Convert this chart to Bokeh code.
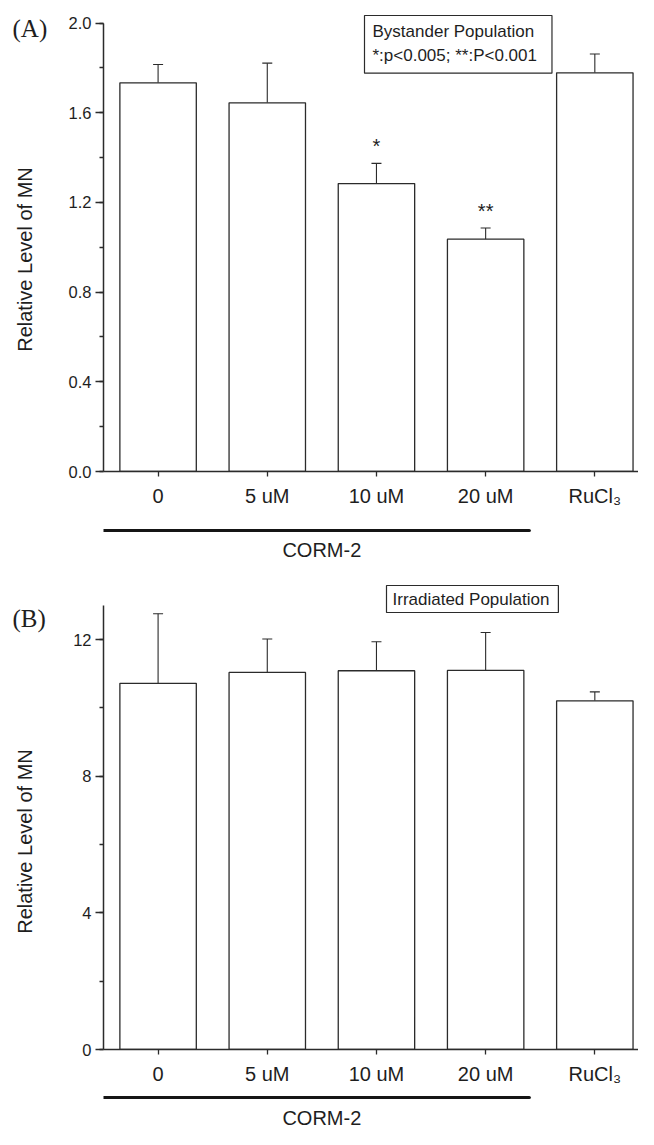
import math
from bokeh.plotting import figure
from bokeh.models import (Range1d, FixedTicker, SingleIntervalTicker, NumeralTickFormatter,
                          ColumnDataSource, Whisker, TeeHead, Label)
from bokeh.layouts import column, row
from bokeh.embed import file_html
from bokeh.resources import INLINE
from bokeh.core.properties import value

# ---------------- data ----------------
categories = ["0", "5 uM", "10 uM", "20 uM", "RuCl\u2083"]
corm_count = 4  # first four categories are CORM-2 doses

a_mean = [1.733, 1.644, 1.284, 1.036, 1.778]
a_err = [0.082, 0.177, 0.090, 0.050, 0.084]
a_stars = ["", "", "*", "**", ""]

b_mean = [10.72, 11.04, 11.09, 11.10, 10.21]
b_err = [2.04, 0.98, 0.85, 1.11, 0.26]
b_stars = ["", "", "", "", ""]

a_axis_max = 2.0
b_axis_max = 13

# ---------------- style / layout ----------------
TOTAL_W = 638
TOTAL_H = 1129
LEFT_W = 58            # strip holding panel letters and y titles
W = TOTAL_W - LEFT_W
LEFT = 45              # main figure border left of the frame
SANS = "Liberation Sans"
SERIF = "Liberation Serif"
INK = "#2b2b2b"
TXT = "#1e1e1e"

idx = list(range(len(categories)))
xr = Range1d(-0.5, 4.4)
FRAME_W = W - LEFT
px_per_x = FRAME_W / (xr.end - xr.start)


def x_at(px):
    """data x for a canvas pixel column (canvas of the whole page)."""
    return xr.start + (px - LEFT_W - LEFT) / px_per_x


def main_panel(means, errs, stars, axis_max, interval, fmt, height, top, frame_h,
               view_max, box_text, box_px, box_py, frame_top_px, box_pad, box_lh):
    p = figure(width=W, height=height, x_range=xr, y_range=Range1d(0, view_max),
               output_backend="svg", toolbar_location=None,
               min_border_left=LEFT, min_border_right=0,
               min_border_top=top, min_border_bottom=height - top - frame_h)
    p.outline_line_color = None
    p.grid.visible = False
    p.background_fill_color = "white"
    p.border_fill_color = "white"

    upper = [m + e for m, e in zip(means, errs)]
    src = ColumnDataSource(dict(x=idx, top=means, upper=upper, stars=stars))

    p.vbar(x="x", top="top", bottom=0, width=0.7, source=src,
           fill_color="white", line_color=INK, line_width=1.3)

    wh = Whisker(source=src, base="x", lower="top", upper="upper",
                 line_color=INK, line_width=1.1,
                 upper_head=TeeHead(size=10, line_color=INK, line_width=1.1),
                 lower_head=None)
    p.add_layout(wh)

    p.text(x="x", y="upper", text="stars", source=src, text_align="center",
           text_baseline="alphabetic", y_offset=-17,
           text_font=value(SANS), text_font_size="20px", text_color=TXT)

    # axes
    p.xaxis.ticker = FixedTicker(ticks=idx)
    p.xaxis.major_label_overrides = {i: c for i, c in enumerate(categories)}
    p.xaxis.minor_tick_line_color = None
    p.xaxis.major_tick_out = 5
    p.xaxis.major_tick_in = 0
    p.xaxis.major_label_standoff = 8
    p.xaxis.major_label_text_font = SANS
    p.xaxis.major_label_text_font_size = "20px"
    p.xaxis.major_label_text_color = TXT

    p.yaxis.ticker = SingleIntervalTicker(interval=interval, num_minor_ticks=2)
    p.yaxis.formatter = NumeralTickFormatter(format=fmt)
    p.yaxis.bounds = (0, axis_max)
    p.yaxis.major_tick_out = 8
    p.yaxis.major_tick_in = 0
    p.yaxis.minor_tick_out = 4
    p.yaxis.minor_tick_in = 0
    p.yaxis.major_label_standoff = 4
    p.yaxis.major_label_text_font = SANS
    p.yaxis.major_label_text_font_size = "16.5px"
    p.yaxis.major_label_text_color = TXT

    for ax in (p.xaxis, p.yaxis):
        ax.axis_line_color = INK
        ax.axis_line_width = 1.5
        ax.major_tick_line_color = INK
        ax.major_tick_line_width = 1.3
    p.yaxis.minor_tick_line_color = INK
    p.yaxis.minor_tick_line_width = 1.3

    # legend-like text box (inside the frame)
    px_per_y = frame_h / view_max
    box_y = view_max - (box_py - frame_top_px) / px_per_y
    p.add_layout(Label(x=x_at(box_px), y=box_y, text=box_text, text_font=SANS,
                       text_font_size="17px", text_baseline="top",
                       text_align="left", text_color=TXT,
                       text_line_height=box_lh,
                       border_line_color=INK, border_line_width=1.2,
                       background_fill_color="white", padding=box_pad))
    return p


def corm_panel(height, line_y, text_y):
    p = figure(width=W, height=height, x_range=xr, y_range=Range1d(0, height),
               output_backend="svg", toolbar_location=None,
               x_axis_location=None, y_axis_location=None,
               min_border_left=LEFT, min_border_right=0,
               min_border_top=0, min_border_bottom=0)
    p.outline_line_color = None
    p.grid.visible = False
    p.background_fill_color = "white"
    p.border_fill_color = "white"
    x0 = idx[0] - 0.55
    x1 = idx[corm_count - 1] + 0.4
    p.line(x=[x0, x1], y=[line_y, line_y], line_color="#151515", line_width=3.2,
           line_cap="round")
    mid = (idx[0] + idx[corm_count - 1]) / 2
    p.text(x=[mid], y=[text_y], text=["CORM-2"], text_align="center",
           text_baseline="middle", text_font=value(SANS),
           text_font_size="20px", text_color=TXT)
    return p


# Panel A: canvas rows 0..511, frame 13..471 (2.0 at row 22.5)
A_TOP, A_FRAME = 13, 458
a_view_max = a_axis_max * A_FRAME / (471 - 22.5)
pA = main_panel(a_mean, a_err, a_stars, a_axis_max, 0.4, "0.0", height=511,
                top=A_TOP, frame_h=A_FRAME, view_max=a_view_max,
                box_text="Bystander Population\n*:p<0.005; **:P<0.001",
                box_px=364, box_py=15, frame_top_px=A_TOP,
                box_pad=dict(left=8, right=15, top=6, bottom=8), box_lh=1.3)
pA2 = corm_panel(52, 33, 14)

# Panel B: canvas rows 563..1087, frame 583..1049 (13 at row 605)
B_START, B_TOP, B_FRAME = 563, 20, 466
b_view_max = b_axis_max * B_FRAME / (1049 - 605)
pB = main_panel(b_mean, b_err, b_stars, b_axis_max, 4, "0", height=524,
                top=B_TOP, frame_h=B_FRAME, view_max=b_view_max,
                box_text="Irradiated Population",
                box_px=386, box_py=585 - B_START, frame_top_px=B_TOP,
                box_pad=dict(left=6, right=9, top=4, bottom=4), box_lh=1.2)
pB2 = corm_panel(42, 32, 12)

# left strip: panel letters and y-axis titles
side = figure(width=LEFT_W, height=TOTAL_H, x_range=Range1d(0, LEFT_W),
              y_range=Range1d(0, TOTAL_H), output_backend="svg", toolbar_location=None,
              x_axis_location=None, y_axis_location=None,
              min_border_left=0, min_border_right=0, min_border_top=0, min_border_bottom=0)
side.outline_line_color = None
side.grid.visible = False
side.border_fill_color = "white"
side.text(x=[12, 12], y=[TOTAL_H - 27.5, TOTAL_H - 618], text=["(A)", "(B)"],
          text_align="left", text_baseline="middle", text_font=value(SERIF),
          text_font_size="25px", text_color=TXT)
side.text(x=[24, 24], y=[TOTAL_H - 259, TOTAL_H - 841],
          text=["Relative Level of MN", "Relative Level of MN"],
          angle=math.pi / 2, text_align="center", text_baseline="middle",
          text_font=value(SANS), text_font_size="20px", text_color=TXT)

layout = row(side, column(pA, pA2, pB, pB2, spacing=0), spacing=0)

open("out.html", "w").write(file_html(layout, INLINE))
